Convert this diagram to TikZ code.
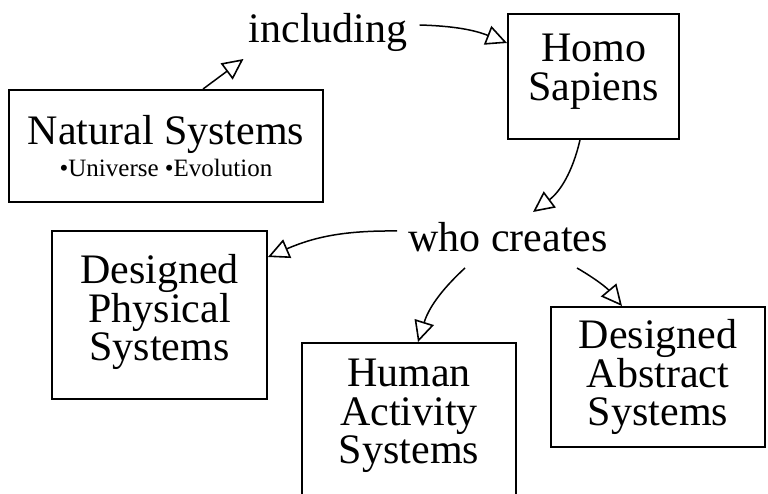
\documentclass[tikz,border=0pt]{standalone}
\usepackage{fontspec}
\setmainfont{Liberation Serif}
\usetikzlibrary{arrows.meta}
% extra depth under the last line of a box, lifting its text a little
\newcommand{\deepen}[1]{\rule[-#1]{0pt}{0pt}}
\begin{document}
\begin{tikzpicture}[x=1pt,y=-1pt,
  box/.style={draw, line width=1.9pt, inner sep=0pt, align=center,
    font=\fontsize{42}{38.5}\selectfont},
  word/.style={inner sep=0pt, anchor=base, font=\fontsize{42}{42}\selectfont},
  link/.style={line width=1.5pt,
    -{Triangle[open, length=21pt, width=20pt, line width=1.6pt]}}]
\useasboundingbox (0,0) rectangle (768,494);

% system boxes
\node[box, minimum width=314pt, minimum height=112pt] (nat) at (166,146)
  {Natural Systems\\[-6.5pt]{\fontsize{25}{32}\selectfont •Universe •Evolution}};
\node[box, minimum width=171pt, minimum height=125pt] (homo) at (593.5,76.5)
  {Homo\\Sapiens\deepen{18pt}};
\node[box, minimum width=215pt, minimum height=168pt] (dp) at (159.5,315)
  {Designed\\Physical\\Systems\deepen{15pt}};
\node[box, minimum width=214pt, minimum height=157pt] (ha) at (409,421.5)
  {Human\\Activity\\Systems\deepen{20pt}};
\node[box, minimum width=214pt, minimum height=140pt] (da) at (658,377)
  {Designed\\Abstract\\Systems};

% linking words
\node[word] (inc) at (328,43) {including};
\node[word] (who) at (508,252) {who creates};

% connectors
\draw[link] ([xshift=37pt]nat.north) -- ([xshift=-5pt,yshift=-16pt]inc.base west);
\draw[link] ([xshift=12pt,yshift=18pt]inc.base east) to[bend left=10] ([yshift=33.5pt]homo.west);
\draw[link] ([xshift=-13.5pt]homo.south) to[bend left=20] ([xshift=25pt,yshift=40pt]who.base);
\draw[link] ([xshift=-11pt,yshift=21pt]who.base west) to[bend right=12] ([yshift=58pt]dp.east);
\draw[link] ([xshift=-43pt,yshift=-16pt]who.base) to[bend right=15] ([xshift=9pt]ha.north);
\draw[link] ([xshift=69pt,yshift=-16pt]who.base) to[bend left=10] ([xshift=-36pt]da.north);
\end{tikzpicture}
\end{document}
